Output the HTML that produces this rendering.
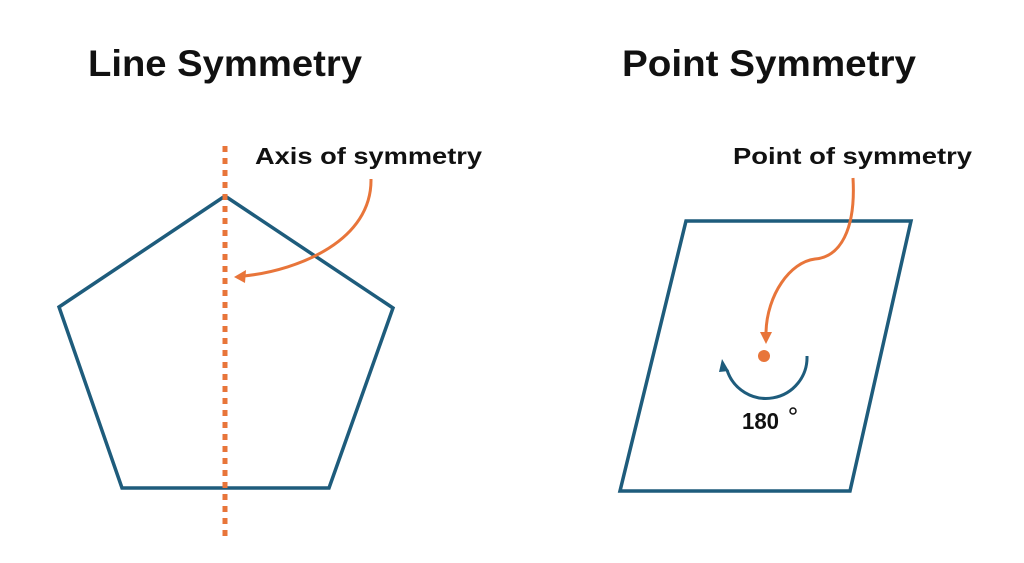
<!DOCTYPE html>
<html><head><style>
html,body{margin:0;padding:0;background:#fff;}
body{width:1024px;height:558px;overflow:hidden;}
svg text{font-family:"Liberation Sans",sans-serif;font-weight:bold;fill:#111;}
</style></head><body>
<svg width="1024" height="558" viewBox="0 0 1024 558" xmlns="http://www.w3.org/2000/svg">
<text x="88" y="76" font-size="37" textLength="274" lengthAdjust="spacingAndGlyphs">Line Symmetry</text>
<text x="622" y="76" font-size="37" textLength="294" lengthAdjust="spacingAndGlyphs">Point Symmetry</text>
<polygon points="225,196 393,308 329,488 122,488 59,307" fill="none" stroke="#1e5c7c" stroke-width="3.5"/>
<line x1="225" y1="146" x2="225" y2="536" stroke="#e8753a" stroke-width="5" stroke-dasharray="6,6"/>
<text x="255" y="164" font-size="23" textLength="227" lengthAdjust="spacingAndGlyphs">Axis of symmetry</text>
<path d="M371,179 C372,240 300,270 244,276" fill="none" stroke="#e8753a" stroke-width="3"/>
<polygon points="234,277 246,270 245,283" fill="#e8753a"/>
<polygon points="686,221 911,221 850,491 620,491" fill="none" stroke="#1e5c7c" stroke-width="3.5"/>
<text x="733" y="164" font-size="23" textLength="239" lengthAdjust="spacingAndGlyphs">Point of symmetry</text>
<path d="M853,178 C856,230 840,257 815,259 C790,262 767,295 766,332" fill="none" stroke="#e8753a" stroke-width="3"/>
<polygon points="760,332 772,332 766,344" fill="#e8753a"/>
<circle cx="764" cy="356" r="6" fill="#e8753a"/>
<path d="M807,356 A41,41 0 0 1 727,370" fill="none" stroke="#1e5c7c" stroke-width="3"/>
<polygon points="722,359 729,371 719,372" fill="#1e5c7c"/>
<text x="742" y="429" font-size="23" textLength="37" lengthAdjust="spacingAndGlyphs">180</text>
<circle cx="793" cy="411" r="3" fill="none" stroke="#111" stroke-width="1.5"/>
</svg>
</body></html>
